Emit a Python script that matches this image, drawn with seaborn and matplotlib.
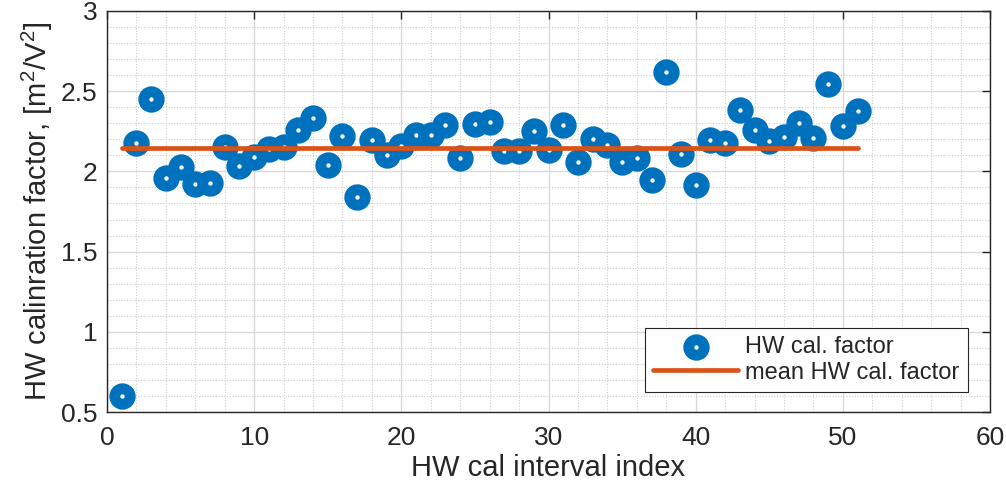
import numpy as np
import pandas as pd
import matplotlib
matplotlib.use("Agg")
import matplotlib.pyplot as plt
from matplotlib.ticker import MultipleLocator, FuncFormatter
import seaborn as sns

# ---- data ----
interval_index = list(range(1, 52))
cal_factor = [0.60, 2.18, 2.45, 1.96, 2.03, 1.92, 1.925, 2.15, 2.036, 2.09,
              2.14, 2.15, 2.258, 2.33, 2.042, 2.22, 1.838, 2.194, 2.10, 2.16,
              2.225, 2.227, 2.287, 2.082, 2.293, 2.306, 2.13, 2.13, 2.25, 2.133,
              2.287, 2.057, 2.20, 2.162, 2.059, 2.082, 1.946, 2.618, 2.108, 1.913,
              2.196, 2.179, 2.383, 2.258, 2.19, 2.214, 2.302, 2.21, 2.543, 2.285,
              2.377]
mean_value = 2.146
mean_x = [1, 51]
series_labels = ["HW cal. factor", "mean HW cal. factor"]
x_label = "HW cal interval index"
y_label = "HW calinration factor, [m$^2$/V$^2$]"

BLUE = "#0072BD"
ORANGE = "#D95319"

sns.set_theme(style="white")
plt.rcParams['font.family'] = ['Liberation Sans', 'DejaVu Sans']
plt.rcParams['mathtext.fontset'] = 'custom'
plt.rcParams['mathtext.rm'] = 'Liberation Sans'

fig = plt.figure(figsize=(10.06, 4.92), dpi=100)
ax = fig.add_axes([107/1006, 1 - 412/492, (990-107)/1006, (412-11)/492])

df = pd.DataFrame({"idx": interval_index, "val": cal_factor})
sns.scatterplot(data=df, x="idx", y="val", ax=ax, marker="o", s=125,
                facecolor="white", edgecolor=BLUE, linewidth=7.8,
                label=series_labels[0], zorder=3)
dfm = pd.DataFrame({"idx": mean_x, "val": [mean_value] * len(mean_x)})
sns.lineplot(data=dfm, x="idx", y="val", ax=ax, color=ORANGE, linewidth=3.4,
             label=series_labels[1], zorder=4)

ax.set_xlim(0, 60)
ax.set_ylim(0.5, 3)
ax.xaxis.set_major_locator(MultipleLocator(10))
ax.xaxis.set_minor_locator(MultipleLocator(2))
ax.yaxis.set_major_locator(MultipleLocator(0.5))
ax.yaxis.set_minor_locator(MultipleLocator(0.1))
ax.yaxis.set_major_formatter(FuncFormatter(lambda v, p: f"{v:g}"))

ax.grid(which="major", color="#d9d9d9", linewidth=1.0, linestyle="-", zorder=0)
ax.grid(which="minor", color="#d0d0d0", linewidth=0.8, linestyle=(0, (1, 1.5)), zorder=0)
ax.set_axisbelow(True)

ax.tick_params(which="major", direction="in", length=6, width=1, color="#262626",
               top=True, right=True, labelsize=19, labelcolor="#262626", pad=7)
ax.tick_params(axis="x", which="major", pad=10)
ax.tick_params(which="minor", length=0)
for sp in ax.spines.values():
    sp.set_color("#262626")
    sp.set_linewidth(1.0)

ax.set_xlabel(x_label, fontsize=21, color="#262626", labelpad=3)
ax.set_ylabel(y_label, fontsize=21, color="#262626", labelpad=4)

leg = ax.legend(loc="lower right", bbox_to_anchor=(0.975, 0.05), fontsize=17,
                frameon=True, fancybox=False, edgecolor="#262626",
                framealpha=1, borderpad=0.35, handlelength=3.6, handletextpad=0.3,
                labelspacing=0.15, borderaxespad=0)
leg.get_frame().set_linewidth(0.8)

fig.savefig("out.png", dpi=100)
